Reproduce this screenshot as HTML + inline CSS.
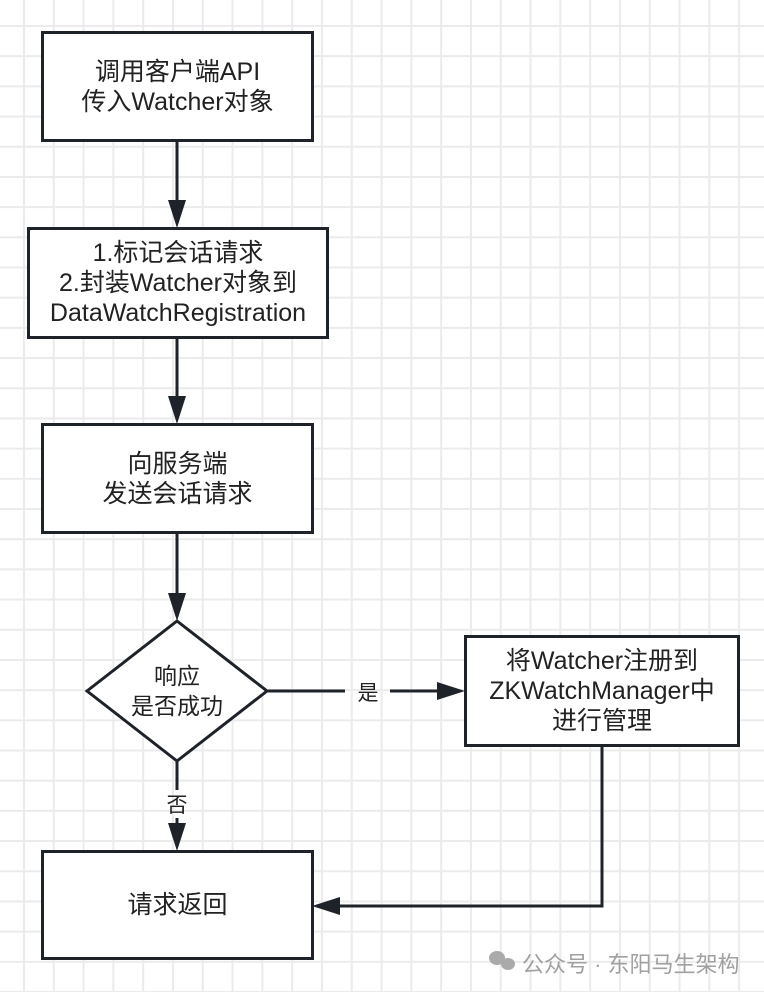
<!DOCTYPE html>
<html><head><meta charset="utf-8"><style>
html,body{margin:0;padding:0}
body{width:764px;height:992px;position:relative;overflow:hidden;background:#fff;
background-image:linear-gradient(to right,#ebebeb 2px,transparent 2px),linear-gradient(to bottom,#ebebeb 2px,transparent 2px);
background-size:29.8px 30.2px;background-position:23px 25px;
font-family:"Liberation Sans","Noto Sans CJK SC",sans-serif;color:#222}
.b{position:absolute;box-sizing:border-box;border:3px solid #1e2329;background:#fff;display:flex;align-items:center;justify-content:center;text-align:center;font-size:25px;line-height:30px;white-space:nowrap}
svg{position:absolute;left:0;top:0}
.wm{position:absolute;left:522px;top:947px;font-size:22px;color:#a0a0a0;white-space:nowrap}
</style></head><body>
<svg width="764" height="992">
<g stroke="#1e2329" stroke-width="3" fill="none">
<line x1="177" y1="140" x2="177" y2="212"/>
<line x1="177" y1="337" x2="177" y2="408"/>
<line x1="177" y1="532" x2="177" y2="605"/>
<line x1="268" y1="691" x2="345" y2="691"/>
<line x1="390" y1="691" x2="450" y2="691"/>
<line x1="177" y1="761" x2="177" y2="790"/>
<line x1="177" y1="818" x2="177" y2="835"/>
<polyline points="602,745 602,906 328,906"/>
</g>
<g fill="#1e2329">
<polygon points="168,200 186,200 177,228"/>
<polygon points="168,396 186,396 177,424"/>
<polygon points="168,593 186,593 177,621"/>
<polygon points="437,682 437,700 465,691"/>
<polygon points="168,823 186,823 177,851"/>
<polygon points="340,897 340,915 312,906"/>
</g>
<polygon points="177,621 267,691 177,761 87,691" fill="#fff" stroke="#1e2329" stroke-width="3"/>
<text x="177" y="684" font-size="23" text-anchor="middle" fill="#222" font-family="Liberation Sans,Noto Sans CJK SC,sans-serif">响应</text>
<text x="177" y="714" font-size="23" text-anchor="middle" fill="#222" font-family="Liberation Sans,Noto Sans CJK SC,sans-serif">是否成功</text>
<text x="368" y="700" font-size="21" text-anchor="middle" fill="#222" font-family="Liberation Sans,Noto Sans CJK SC,sans-serif">是</text>
<text x="177" y="812" font-size="21" text-anchor="middle" fill="#222" font-family="Liberation Sans,Noto Sans CJK SC,sans-serif">否</text>
<g fill="#aaa"><ellipse cx="497" cy="958" rx="8" ry="7"/><ellipse cx="508" cy="964" rx="7" ry="6"/></g>
</svg>
<div class="b" style="left:41px;top:31px;width:273px;height:111px">调用客户端API<br>传入Watcher对象</div>
<div class="b" style="left:27px;top:227px;width:302px;height:112px">1.标记会话请求<br>2.封装Watcher对象到<br>DataWatchRegistration</div>
<div class="b" style="left:41px;top:423px;width:273px;height:111px">向服务端<br>发送会话请求</div>
<div class="b" style="left:464px;top:635px;width:276px;height:112px">将Watcher注册到<br>ZKWatchManager中<br>进行管理</div>
<div class="b" style="left:41px;top:850px;width:273px;height:110px">请求返回</div>
<div class="wm">公众号 · 东阳马生架构</div>
</body></html>
